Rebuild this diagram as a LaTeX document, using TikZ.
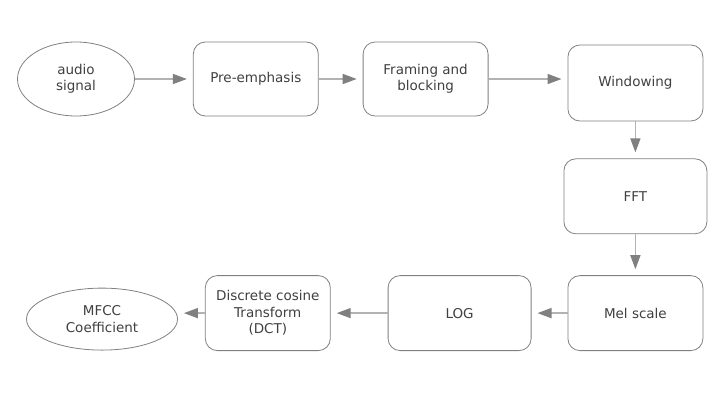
\documentclass[tikz,border=0pt]{standalone}
\usepackage{fontspec}
\setmainfont{DejaVu Sans}
\usetikzlibrary{shapes.geometric, positioning, arrows.meta}

\begin{document}
\begin{tikzpicture}[every node/.style={align=center, font=\fontsize{13.5}{16.5}\selectfont, text=black!75},
    box/.style={rectangle, rounded corners=12pt, draw=black!50, line width=0.8pt, minimum height=75pt},
    oval/.style={ellipse, draw=black!50, line width=0.8pt},
    flow/.style={-{Triangle[length=14pt, width=10pt, color=black!50]}, draw=black!30, line width=1.5pt, shorten >=6pt}]
        \useasboundingbox (0,0) rectangle (727pt,-410pt);

        % Top row
        \node (audio) [oval, minimum width=117pt, minimum height=74pt] at (76pt,-79pt) {audio\\signal};
        \node (pre) [box, minimum width=125pt, minimum height=74pt, right=58pt of audio] {Pre-emphasis};
        \node (frame) [box, minimum width=125pt, minimum height=74pt, right=44pt of pre] {Framing and\\blocking};
        \node (win) [box, minimum width=135pt, minimum height=76pt, right=79pt of frame, yshift=-4pt] {Windowing};

        % Right column
        \node (fft) [box, minimum width=143pt, below=37pt of win] {FFT};
        \node (mel) [box, minimum width=135pt, below=41pt of fft] {Mel scale};

        % Bottom row
        \node (log) [box, minimum width=143pt, left=36pt of mel] {LOG};
        \node (dct) [box, minimum width=125pt, left=57pt of log] {Discrete cosine\\Transform\\(DCT)};
        \node (mfcc) [oval, minimum width=151pt, minimum height=62pt, left=27pt of dct, yshift=-6pt] {MFCC\\Coefficient};

        % Arrows
        \draw[flow] (audio) -- (pre);
        \draw[flow] (pre) -- (frame);
        \draw[flow] (frame.east) -- (frame.east -| win.west);
        \draw[flow] (win) -- (fft);
        \draw[flow] (fft) -- (mel);
        \draw[flow] (mel) -- (log);
        \draw[flow] (log) -- (dct);
        \draw[flow] (dct.west) -- (dct.west -| mfcc.east);
    \end{tikzpicture}
\end{document}
